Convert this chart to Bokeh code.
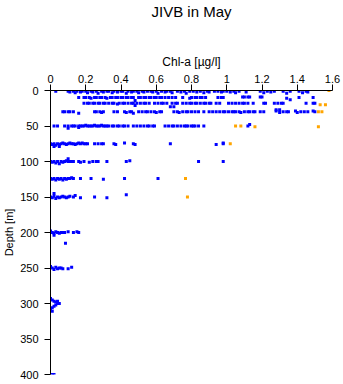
from bokeh.plotting import figure
from bokeh.models import Range1d, FixedTicker, Title
from bokeh.embed import file_html
from bokeh.resources import INLINE

# ---------------- data (chl-a [µg/l], depth [m]) ----------------
row_0m = [(0.03,1),(0.10,1),(0.11,2),(0.13,1),(0.14,3),(0.15,1),(0.17,2),(0.18,1),(0.20,1),(0.21,3),
          (0.23,1),(0.24,2),(0.26,1),(0.27,4),(0.29,1),(0.30,2),(0.32,1),(0.33,1),(0.35,3),(0.36,1),
          (0.38,2),(0.40,1),(0.41,1),(0.43,4),(0.44,1),(0.46,2),(0.47,1),(0.49,1),(0.50,3),(0.52,1),
          (0.53,2),(0.55,1),(0.57,1),(0.58,2),(0.60,1),(0.61,4),(0.63,1),(0.65,2),(0.66,1),(0.68,1),
          (0.69,3),(0.72,1),(0.74,2),(0.76,1),(0.77,4),(0.79,1),(0.81,1),(0.83,2),(0.85,1),(0.87,3),
          (0.89,1),(0.90,2),(0.93,1),(0.95,1),(0.97,2),(0.98,1),(1.00,1),(1.02,2),(1.04,1),(1.05,3),
          (1.07,1),(1.11,2),(1.19,1),(1.21,3),(1.23,1),(1.25,2),(1.27,1),(1.32,1),(1.34,4),(1.36,1),
          (1.41,1),(1.43,3),(1.45,1),(1.46,2)]
row_10m = [(0.16,10),(0.19,10),(0.20,10),(0.22,10),(0.23,11),(0.25,10),(0.26,10),(0.28,10),(0.29,10),
           (0.31,10),(0.32,11),(0.34,10),(0.35,10),(0.37,10),(0.38,10),(0.40,10),(0.41,10),(0.43,10),
           (0.44,10),(0.46,10),(0.47,10),(0.48,14),(0.50,10),(0.51,10),(0.53,10),(0.54,10),(0.56,10),
           (0.57,10),(0.59,10),(0.60,10),(0.62,10),(0.63,10),(0.65,10),(0.67,10),(0.69,10),(0.71,10),
           (0.75,10),(0.79,11),(0.80,10),(0.82,10),(0.83,10),(0.85,10),(0.86,10),(0.88,10),(0.95,10),
           (0.97,10),(0.98,10),(1.09,9),(1.10,9),(1.12,9),(1.13,9),(1.19,9),(1.20,9),(1.34,11),
           (1.36,13),(1.41,10),(1.49,10)]
row_20m = [(0.19,18),(0.21,18),(0.22,18),(0.24,18),(0.25,18),(0.27,18),(0.28,18),(0.30,18),(0.31,18),
           (0.33,18),(0.35,18),(0.36,18),(0.38,19),(0.39,18),(0.41,18),(0.42,18),(0.44,18),(0.46,18),
           (0.47,18),(0.48,21),(0.49,18),(0.51,18),(0.53,18),(0.54,18),(0.56,18),(0.59,18),(0.61,18),
           (0.63,18),(0.64,18),(0.66,18),(0.68,23),(0.69,18),(0.70,23),(0.71,18),(0.72,18),(0.75,18),
           (0.77,18),(0.79,18),(0.80,18),(0.82,18),(0.83,18),(0.85,18),(0.87,18),(0.88,18),(0.90,18),
           (0.91,18),(0.94,18),(0.96,18),(1.01,18),(1.03,18),(1.05,18),(1.07,18),(1.09,18),(1.10,18),
           (1.12,18),(1.15,18),(1.21,18),(1.22,18),(1.27,18),(1.28,27),(1.29,18),(1.30,27),(1.31,18),
           (1.32,18),(1.45,18),(1.49,18),(1.50,18)]
row_30m = [(0.07,30),(0.08,30),(0.10,30),(0.11,30),(0.13,30),(0.16,32),(0.25,30),(0.26,30),(0.28,30),
           (0.29,31),(0.30,30),(0.36,30),(0.38,30),(0.42,30),(0.43,31),(0.45,30),(0.46,30),(0.47,32),
           (0.50,30),(0.52,30),(0.54,30),(0.55,30),(0.57,30),(0.59,30),(0.60,31),(0.62,30),(0.63,30),
           (0.70,30),(0.72,30),(0.73,31),(0.75,30),(0.77,30),(0.78,30),(0.80,30),(0.82,30),(0.84,30),
           (0.87,30),(0.90,30),(0.92,30),(0.94,30),(0.96,30),(0.98,30),(0.99,30),(1.01,30),(1.03,30),
           (1.04,30),(1.05,30),(1.07,30),(1.08,31),(1.10,30),(1.12,30),(1.13,30),(1.15,30),(1.16,30),
           (1.19,30),(1.21,30),(1.28,29),(1.30,31),(1.32,30),(1.34,30),(1.35,30),(1.39,29),(1.40,31),
           (1.42,30),(1.44,30),(1.46,30),(1.49,29),(1.50,30)]
row_50m = [(0.02,50),(0.04,50),(0.08,50),(0.10,53),(0.10,50),(0.12,50),(0.13,50),(0.14,50),(0.16,52),
           (0.16,50),(0.17,50),(0.18,50),(0.19,50),(0.20,49),(0.21,50),(0.22,50),(0.23,50),(0.24,50),
           (0.25,49),(0.26,50),(0.27,50),(0.28,50),(0.29,49),(0.30,50),(0.31,50),(0.32,50),(0.33,50),
           (0.35,50),(0.36,50),(0.38,50),(0.39,50),(0.41,50),(0.42,50),(0.44,50),(0.47,50),(0.49,50),
           (0.51,50),(0.53,50),(0.55,50),(0.56,50),(0.58,50),(0.59,50),(0.65,50),(0.67,50),(0.69,50),
           (0.70,50),(0.72,50),(0.74,50),(0.76,50),(0.77,50),(0.78,50),(0.80,50),(0.81,50),(0.82,50),
           (0.84,50),(0.87,50),(1.12,50),(1.13,48)]
row_75m = [(0.00,75),(0.01,76),(0.02,75),(0.02,79),(0.03,77),(0.04,75),(0.05,76),(0.05,79),(0.06,75),
           (0.07,74),(0.08,75),(0.09,76),(0.10,75),(0.11,74),(0.12,75),(0.13,75),(0.14,76),(0.15,75),
           (0.16,74),(0.17,75),(0.18,74),(0.19,75),(0.20,75),(0.21,75),(0.25,75),(0.27,75),(0.29,75),
           (0.30,75),(0.36,75),(0.37,76),(0.42,74),(0.47,75),(0.48,76),(0.68,75),(0.94,76),(0.98,75),
           (0.98,74)]
row_100m = [(0.00,100),(0.01,101),(0.02,100),(0.03,102),(0.04,100),(0.05,103),(0.06,100),(0.07,101),
            (0.08,100),(0.09,99),(0.10,96),(0.10,100),(0.11,100),(0.12,100),(0.13,100),(0.16,100),
            (0.17,101),(0.19,100),(0.22,101),(0.24,100),(0.26,100),(0.27,100),(0.32,100),(0.43,100),
            (0.45,99),(0.84,100),(0.98,100)]
row_125m = [(0.00,124),(0.01,125),(0.02,124),(0.03,126),(0.04,124),(0.05,125),(0.06,124),(0.07,126),
            (0.08,124),(0.09,125),(0.10,124),(0.11,124),(0.12,123),(0.13,124),(0.17,124),(0.23,124),
            (0.30,125),(0.42,124),(0.61,124)]
row_150m = [(0.02,145),(0.00,150),(0.01,151),(0.02,149),(0.03,152),(0.04,150),(0.05,151),(0.06,150),
            (0.07,149),(0.08,150),(0.09,151),(0.10,150),(0.11,149),(0.13,150),(0.14,148),(0.17,151),
            (0.25,150),(0.32,151),(0.43,147)]
row_200m = [(0.00,198),(0.01,200),(0.02,201),(0.02,204),(0.03,199),(0.04,200),(0.05,201),(0.06,200),
            (0.07,200),(0.08,200),(0.10,199),(0.13,200),(0.15,199),(0.16,200),(0.085,215)]
row_250m = [(0.00,248),(0.01,250),(0.02,252),(0.03,249),(0.04,251),(0.05,250),(0.06,250),(0.07,251),
            (0.10,251),(0.12,249)]
row_300m = [(0.00,293),(0.01,295),(0.02,297),(0.03,298),(0.04,300),(0.05,300),(0.03,302),(0.02,304),
            (0.01,306),(0.00,308),(0.01,311),(0.04,297)]
row_400m = [(0.01,400),(0.02,400)]

flagged = [(1.58,0),(1.53,20),(1.56,20),(1.52,30),(1.54,30),(1.05,50),(1.08,50),(1.16,51),(1.52,51),
           (1.02,75),(0.766,124),(0.777,150)]

x_ticks = [0, 0.2, 0.4, 0.6, 0.8, 1, 1.2, 1.4, 1.6]
x_tick_labels = ["0", "0.2", "0.4", "0.6", "0.8", "1", "1.2", "1.4", "1.6"]
y_ticks = [0, 50, 100, 150, 200, 250, 300, 350, 400]

title_text = "JIVB in May"
x_label = "Chl-a [µg/l]"
y_label = "Depth [m]"
FONT = "Liberation Sans"

blue_rows = [row_0m, row_10m, row_20m, row_30m, row_50m, row_75m, row_100m, row_125m,
             row_150m, row_200m, row_250m, row_300m, row_400m]
blue_x = [c for row in blue_rows for (c, d) in row]
blue_y = [d for row in blue_rows for (c, d) in row]
or_x = [c for (c, d) in flagged]
or_y = [d for (c, d) in flagged]

p = figure(width=343, height=384, output_backend="svg", toolbar_location=None,
           x_range=Range1d(0, 1.6), y_range=Range1d(400, 0), x_axis_location="above",
           title=title_text,
           min_border_left=48, min_border_right=11, min_border_top=0, min_border_bottom=10)
p.outline_line_color = None
p.grid.visible = False
p.background_fill_color = "white"
p.border_fill_color = "white"

p.title.align = "center"
p.title.vertical_align = "top"
p.title.text_font = FONT
p.title.text_font_size = "15px"
p.title.text_font_style = "normal"
p.title.text_color = "black"
p.title.standoff = 4

# empty spacer panel between the title and the top axis
p.add_layout(Title(text=" ", text_font_size="1px", standoff=25), "above")

p.scatter(blue_x, blue_y, marker="square", size=3, fill_color="#0000ff", line_color=None)
p.scatter(or_x, or_y, marker="square", size=3, fill_color="#ffa500", line_color=None)

xa = p.xaxis[0]
xa.ticker = FixedTicker(ticks=x_ticks)
xa.major_label_overrides = {t: l for t, l in zip(x_ticks, x_tick_labels)}
ya = p.yaxis[0]
ya.ticker = FixedTicker(ticks=y_ticks)
for ax in (xa, ya):
    ax.axis_line_color = "black"
    ax.axis_line_width = 1
    ax.major_tick_line_color = "black"
    ax.major_tick_in = 0
    ax.major_tick_out = 6
    ax.minor_tick_line_color = None
    ax.major_label_text_font = FONT
    ax.major_label_text_font_size = "11px"
    ax.major_label_text_color = "black"
    ax.axis_label_text_font = FONT
    ax.axis_label_text_font_style = "normal"
    ax.axis_label_text_color = "black"
xa.major_label_standoff = 2
ya.major_label_standoff = 6
xa.axis_label = x_label
xa.axis_label_text_font_size = "12px"
xa.axis_label_standoff = 3
ya.axis_label = y_label
ya.axis_label_text_font_size = "11px"
ya.axis_label_standoff = 2

open("out.html", "w").write(file_html(p, INLINE))
